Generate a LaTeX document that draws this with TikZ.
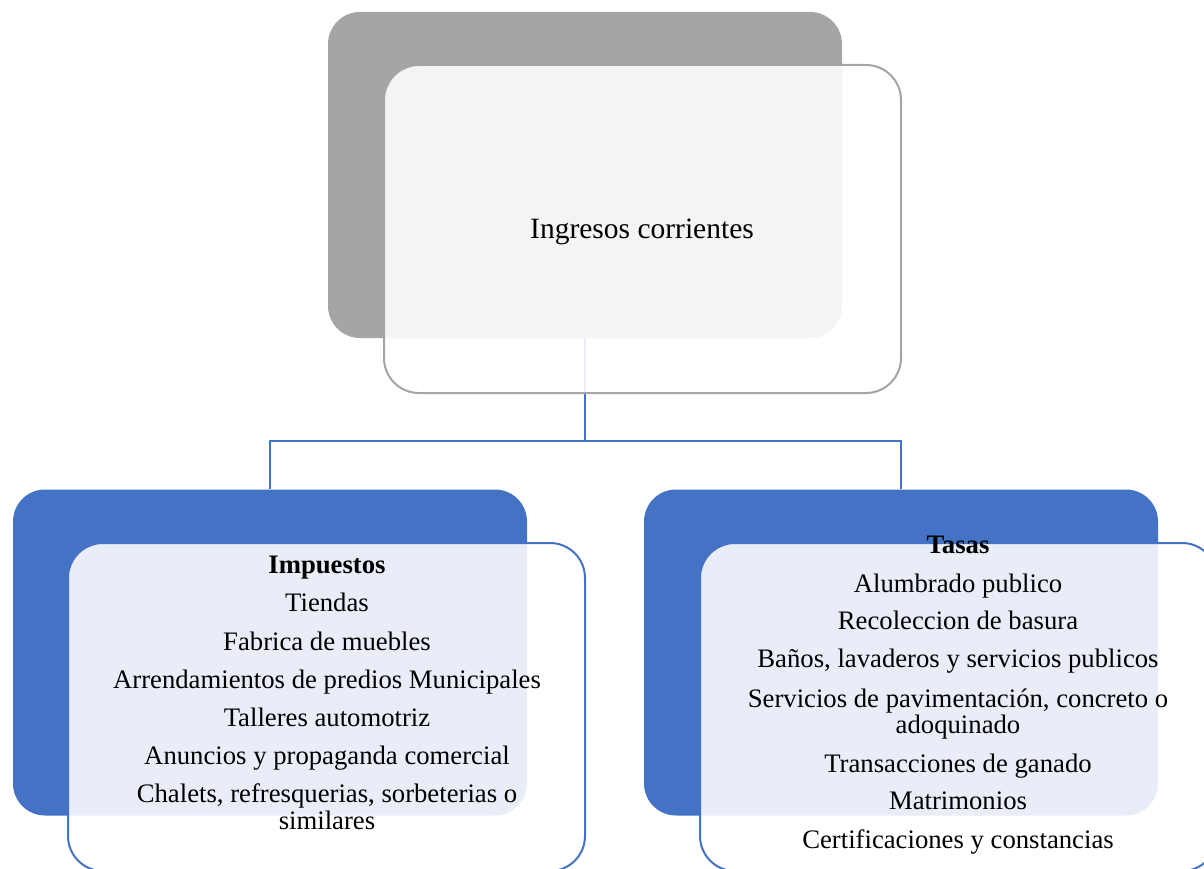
\documentclass[tikz,border=0pt]{standalone}
\usepackage{fontspec}
\setmainfont{Liberation Serif}
\definecolor{backgray}{HTML}{A5A5A5}
\definecolor{accblue}{HTML}{4472C4}
\tikzset{
  backbox/.style={rounded corners=32pt, minimum width=514pt, minimum height=326pt, inner sep=0pt, draw=none},
  frontbox/.style={rounded corners=35pt, minimum width=517pt, minimum height=328pt, inner sep=0pt, line width=2pt, fill=white, fill opacity=0.88},
  conn/.style={draw=accblue, line width=2.4pt},
  item/.style={anchor=base, inner sep=0pt, font=\fontsize{26.7}{28}\selectfont},
  head/.style={item, font=\fontsize{26.7}{28}\selectfont\bfseries},
}
\begin{document}
\begin{tikzpicture}[x=1pt,y=-1pt]
\useasboundingbox (0,0) rectangle (1204,869);
% connectors
\coordinate (j) at (585,441);
% back boxes
\node[backbox, fill=backgray] (top) at (585,175) {};
\node[backbox, fill=accblue] (lb) at (270,652.5) {};
\node[backbox, fill=accblue] (rb) at (901,652.5) {};
\draw[conn] (top.south) -- (j);
\draw[conn] (j) -| (lb.north);
\draw[conn] (j) -| (rb.north);
% front boxes
\node[frontbox, draw=backgray] (topf) at (642.5,229) {};
\node[frontbox, draw=accblue] (lf) at (326.5,707) {};
\node[frontbox, draw=accblue] (rf) at (958.5,707) {};
% texts
\node[anchor=base, inner sep=0pt, font=\fontsize{29.5}{31}\selectfont] (t0) at (642,238) {Ingresos corrientes};
\node[head] (l1) at (327,573) {Impuestos};
\node[item] (l2) at (327,611) {Tiendas};
\node[item] (l3) at (327,650) {Fabrica de muebles};
\node[item] (l4) at (327,688) {Arrendamientos de predios Municipales};
\node[item] (l5) at (327,726) {Talleres automotriz};
\node[item] (l6) at (327,764) {Anuncios y propaganda comercial};
\node[item] (l7) at (327,802) {Chalets, refresquerias, sorbeterias o};
\node[item] (l8) at (327,829) {similares};
\node[head] (r1) at (958,553) {Tasas};
\node[item] (r2) at (958,592) {Alumbrado publico};
\node[item] (r3) at (958,629) {Recoleccion de basura};
\node[item] (r4) at (958,667) {Baños, lavaderos y servicios publicos};
\node[item] (r5) at (958,707) {Servicios de pavimentación, concreto o};
\node[item] (r6) at (958,733) {adoquinado};
\node[item] (r7) at (958,772) {Transacciones de ganado};
\node[item] (r8) at (958,809) {Matrimonios};
\node[item] (r9) at (958,848) {Certificaciones y constancias};
\end{tikzpicture}
\end{document}
